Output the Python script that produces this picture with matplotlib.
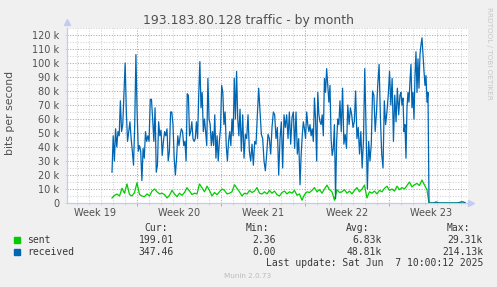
#!/usr/bin/env python3
# Munin "traffic - by month" graph, redrawn with matplotlib

import numpy as np
import matplotlib
matplotlib.use('Agg')
import matplotlib.pyplot as plt
from matplotlib.patches import Rectangle
from matplotlib.transforms import blended_transform_factory

# x axis: days from the left edge of the graph, y axis: k bits per second
# received was read off the graph in pieces, piece i spans seg_days[i]..seg_days[i+1]
seg_days = [3.75, 9.83, 14.42, 19.42, 22.75, 27.75, 30.17]
tail_end = 33.17

recv_1 = [22, 48, 30, 53, 40, 51, 48, 73, 51, 56, 79, 100, 65, 44, 51, 58, 46, 37, 27, 56,
          106, 65, 37, 41, 37, 16, 39, 32, 51, 44, 48, 44, 74, 74, 60, 44, 68, 22, 27, 58,
          48, 52, 34, 44, 51, 48, 53, 30, 37, 65, 65, 56, 32, 20, 32, 48, 41, 48, 53, 51, 41]
recv_2 = [44, 30, 78, 77, 48, 51, 58, 46, 44, 46, 58, 46, 77, 101, 68, 79, 51, 60, 51, 41,
          89, 60, 56, 41, 51, 41, 63, 32, 48, 30, 44, 53, 84, 79, 56, 65, 41, 30, 44, 51,
          41, 60, 48, 89, 60, 94, 60, 48]
recv_3 = [67, 37, 63, 32, 49, 46, 63, 37, 30, 42, 27, 44, 42, 63, 82, 65, 49, 46, 30, 23,
          35, 49, 46, 35, 54, 65, 63, 46, 54, 20, 46, 58, 25, 63, 54, 63, 46, 65, 42, 61,
          65, 39, 65, 35, 46]
recv_4 = [13, 34, 48, 58, 53, 46, 65, 56, 51, 56, 48, 53, 44, 75, 60, 30, 79, 63, 58, 56,
          63, 48, 89, 79, 96, 84, 72, 84, 46, 34, 39, 56, 3, 44, 60, 56]
recv_5 = [73, 51, 82, 42, 49, 39, 70, 56, 68, 63, 54, 58, 80, 46, 54, 35, 51, 25, 44, 96,
          54, 10, 44, 30, 42, 80, 77, 51, 65, 85, 99, 61, 35, 25, 73, 56, 65, 77, 94, 70,
          89, 44, 77, 58, 82, 63]
recv_6 = [77, 79, 70, 75, 51, 56, 32, 68, 79, 72, 87, 99, 68, 79, 60, 91, 108, 79, 103, 82,
          106, 113, 118, 106, 94, 84, 91, 72, 79]
recv_tail = [0, 0, 0, 0.8, 0, 0, 0, 0, 0, 0, 0, 0, 0, 0.6, 0.9, 0.3]

# sent spans seg_days[0]..30.0
sent = [3.6, 5.5, 6.4, 5.0, 10.5, 7.0, 13.6, 6.0, 5.0, 7.5, 14.5, 6.0, 5.0, 4.5, 6.5, 5.0,
        8.5, 10.0, 8.0, 6.5, 7.0, 6.0, 3.6, 5.5, 9.0, 6.5, 4.5, 7.0, 5.5, 7.5, 10.9, 8.6,
        6.0, 7.0, 6.5, 13.6, 10.9, 8.0, 12.0, 9.0, 5.0, 7.5, 6.0, 8.0, 10.0, 9.0, 6.5, 7.0,
        8.0, 13.0, 10.5, 8.0, 5.0, 7.0, 6.4, 9.0, 7.5, 8.5, 11.0, 7.0, 6.4, 8.0, 6.5, 9.0,
        7.0, 8.5, 6.0, 5.0, 7.5, 8.5, 6.5, 8.0, 7.0, 9.0, 5.5, 6.5, 2.0, 6.0, 8.0, 7.5,
        9.0, 11.0, 8.0, 9.5, 7.0, 10.0, 12.8, 9.5, 8.0, 2.0, 9.5, 7.5, 8.0, 9.5, 7.0, 8.5,
        6.5, 9.0, 11.0, 8.0, 10.0, 12.8, 3.6, 8.0, 7.0, 8.5, 6.5, 9.0, 8.0, 10.5, 12.0, 9.0,
        10.0, 8.5, 12.0, 9.5, 11.0, 10.0, 12.5, 15.0, 11.5, 13.0, 14.0, 12.5, 16.4, 12.8, 9.5]
sent_end = 30.0
sent_tail = [0, 0, 0, 0, 0, 0, 0, 0, 0, 0, 0, 0, 0, 0, 0, 0]

ytick_vals = [0, 10, 20, 30, 40, 50, 60, 70, 80, 90, 100, 110, 120]
ytick_labels = ['0', '10 k', '20 k', '30 k', '40 k', '50 k', '60 k', '70 k', '80 k',
                '90 k', '100 k', '110 k', '120 k']
week_labels = ['Week 19', 'Week 20', 'Week 21', 'Week 22', 'Week 23']

legend_names = ['sent', 'received']
cur_vals = ['199.01', '347.46']
min_vals = ['2.36', '0.00']
avg_vals = ['6.83k', '48.81k']
max_vals = ['29.31k', '214.13k']
last_update = 'Last update: Sat Jun  7 10:00:12 2025'

SENT_COLOR = '#00cc00'
RECV_COLOR = '#0066b3'
AXIS_COLOR = '#c4cbf2'
GRID_COLOR = '#d2d2d2'
MGRID_COLOR = '#f08c8c'
TEXT_COLOR = '#505050'

W, H = 497, 287
X_MAX = 33.42
FIRST_WEEK = 5.83


def fx(px):
    return px / W


def fy(py):
    return 1 - py / H


fig = plt.figure(figsize=(W / 100, H / 100), dpi=100, facecolor='#f0f0f0')
ax = fig.add_axes([fx(67), fy(203), 401 / W, 175 / H], facecolor='white')
ax.set_xlim(0, X_MAX)
ax.set_ylim(0, 125)

# grid: days / 5k in grey, weeks / 10k in red
dotted = (0, (1, 1.5))
week_lines = np.arange(FIRST_WEEK, X_MAX, 7)
day_lines = [d for d in np.arange(FIRST_WEEK - 5, X_MAX, 1)
             if np.min(np.abs(week_lines - d)) > 0.1]
for d in day_lines:
    ax.axvline(d, color=GRID_COLOR, lw=0.75, ls=dotted, zorder=1)
for v in np.arange(5, 126, 10):
    ax.axhline(v, color=GRID_COLOR, lw=0.75, ls=dotted, zorder=1)
for d in week_lines:
    ax.axvline(d, color=MGRID_COLOR, lw=0.75, ls=dotted, zorder=1.5)
for v in ytick_vals[1:]:
    ax.axhline(v, color=MGRID_COLOR, lw=0.75, ls=dotted, zorder=1.5)

# build the time axis for each piece
rx, ry = [], []
for i, part in enumerate([recv_1, recv_2, recv_3, recv_4, recv_5, recv_6]):
    rx.append(np.linspace(seg_days[i], seg_days[i + 1], len(part), endpoint=False))
    ry.append(part)
tail_x = np.linspace(seg_days[-1], tail_end, len(recv_tail))
rx.append(tail_x)
ry.append(recv_tail)
rx = np.concatenate(rx)
ry = np.concatenate(ry)

sx = np.concatenate([np.linspace(seg_days[0], sent_end, len(sent)), tail_x])
sy = np.concatenate([sent, sent_tail])

ax.plot(sx, sy, color=SENT_COLOR, lw=0.9, zorder=3)
ax.plot(rx, ry, color=RECV_COLOR, lw=0.9, zorder=4)

# axes look
for side in ['top', 'right']:
    ax.spines[side].set_visible(False)
for side in ['left', 'bottom']:
    ax.spines[side].set_color(AXIS_COLOR)
    ax.spines[side].set_linewidth(0.9)
ax.plot([0], [1.035], marker='^', ms=4.5, color=AXIS_COLOR, transform=ax.transAxes,
        clip_on=False, zorder=5)
ax.plot([1.008], [0], marker='>', ms=4.5, color=AXIS_COLOR, transform=ax.transAxes,
        clip_on=False, zorder=5)

ax.set_yticks(ytick_vals)
ax.set_yticklabels(ytick_labels)
ax.tick_params(axis='y', length=1.5, width=0.6, color=GRID_COLOR, pad=4,
               labelsize=7, labelcolor=TEXT_COLOR)
ax.set_xticks(week_lines)
ax.set_xticklabels([])
ax.set_xticks(day_lines, minor=True)
ax.tick_params(axis='x', which='major', length=2, width=0.7, color=MGRID_COLOR)
ax.tick_params(axis='x', which='minor', length=1.5, width=0.6, color=GRID_COLOR)

trans = blended_transform_factory(ax.transData, ax.transAxes)
for i, lab in enumerate(week_labels):
    ax.text(FIRST_WEEK - 3.5 + 7 * i, -9.7 / 175, lab, transform=trans, ha='center',
            va='center', fontsize=7, color=TEXT_COLOR)

# title and side texts
fig.text(fx(248.5), fy(24), '193.183.80.128 traffic - by month', ha='center',
         va='baseline', fontsize=8.9, color=TEXT_COLOR)
fig.text(fx(10.5), fy(113), 'bits per second', rotation=90, ha='center', va='center',
         fontsize=7.8, color=TEXT_COLOR)
fig.text(fx(488.5), fy(53.5), 'RRDTOOL / TOBI OETIKER', rotation=270, ha='center',
         va='center', fontsize=5.2, color='#c8c8c8')

# legend block
mono = dict(family='DejaVu Sans Mono', fontsize=7, color='#383838', va='center')
for txt, px in [('Cur:', 168), ('Min:', 269), ('Avg:', 369), ('Max:', 470)]:
    fig.text(fx(px), fy(227.7), txt, ha='right', **mono)
for i, name in enumerate(legend_names):
    row_y = 240 + 11.7 * i
    color = [SENT_COLOR, RECV_COLOR][i]
    fig.add_artist(Rectangle((fx(14), fy(row_y + 3)), 6 / W, 6 / H,
                             transform=fig.transFigure, color=color))
    fig.text(fx(27), fy(row_y), name, ha='left', **mono)
    for vals, px in [(cur_vals, 174), (min_vals, 276), (avg_vals, 382), (max_vals, 483)]:
        fig.text(fx(px), fy(row_y), vals[i], ha='right', **mono)
fig.text(fx(483), fy(263.3), last_update, ha='right', **mono)
fig.text(fx(248), fy(276), 'Munin 2.0.73', ha='center', va='center', fontsize=5.2,
         color='#bbbbbb')

fig.savefig('out.png', dpi=100, facecolor=fig.get_facecolor())
